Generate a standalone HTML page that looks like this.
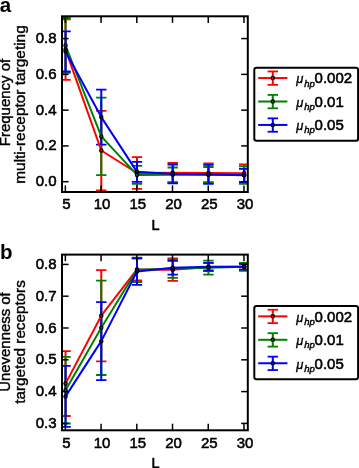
<!DOCTYPE html><html><head><meta charset="utf-8"><style>html,body{margin:0;padding:0;background:#fff;width:359px;height:468px;overflow:hidden}svg{display:block;will-change:transform}text{font-family:"Liberation Sans", sans-serif;fill:#000}</style></head><body>
<svg width="359" height="468" viewBox="0 0 359 468">
<rect width="359" height="468" fill="#fff"/>
<text x="-0.2" y="11.5" font-size="20.5" text-anchor="start" font-weight="bold">a</text>
<text x="0.0" y="259.0" font-size="20.5" text-anchor="start" font-weight="bold">b</text>
<clipPath id="ca"><rect x="62.0" y="16.3" width="185.8" height="175.7"/></clipPath>
<g clip-path="url(#ca)">
<line x1="65.55" y1="19.4" x2="65.55" y2="79.8" stroke="#ff0000" stroke-width="2.0"/>
<line x1="60.35" y1="19.4" x2="70.75" y2="19.4" stroke="#ff0000" stroke-width="1.8"/>
<line x1="60.35" y1="79.8" x2="70.75" y2="79.8" stroke="#ff0000" stroke-width="1.8"/>
<line x1="101.27" y1="110.8" x2="101.27" y2="190.4" stroke="#ff0000" stroke-width="2.0"/>
<line x1="96.07" y1="110.8" x2="106.47" y2="110.8" stroke="#ff0000" stroke-width="1.8"/>
<line x1="96.07" y1="190.4" x2="106.47" y2="190.4" stroke="#ff0000" stroke-width="1.8"/>
<line x1="137.00" y1="157.1" x2="137.00" y2="188.8" stroke="#ff0000" stroke-width="2.0"/>
<line x1="131.80" y1="157.1" x2="142.20" y2="157.1" stroke="#ff0000" stroke-width="1.8"/>
<line x1="131.80" y1="188.8" x2="142.20" y2="188.8" stroke="#ff0000" stroke-width="1.8"/>
<line x1="172.72" y1="163.0" x2="172.72" y2="182.6" stroke="#ff0000" stroke-width="2.0"/>
<line x1="167.52" y1="163.0" x2="177.92" y2="163.0" stroke="#ff0000" stroke-width="1.8"/>
<line x1="167.52" y1="182.6" x2="177.92" y2="182.6" stroke="#ff0000" stroke-width="1.8"/>
<line x1="208.45" y1="163.5" x2="208.45" y2="182.3" stroke="#ff0000" stroke-width="2.0"/>
<line x1="203.25" y1="163.5" x2="213.65" y2="163.5" stroke="#ff0000" stroke-width="1.8"/>
<line x1="203.25" y1="182.3" x2="213.65" y2="182.3" stroke="#ff0000" stroke-width="1.8"/>
<line x1="244.17" y1="164.5" x2="244.17" y2="181.8" stroke="#ff0000" stroke-width="2.0"/>
<line x1="238.97" y1="164.5" x2="249.37" y2="164.5" stroke="#ff0000" stroke-width="1.8"/>
<line x1="238.97" y1="181.8" x2="249.37" y2="181.8" stroke="#ff0000" stroke-width="1.8"/>
<line x1="65.55" y1="18.0" x2="65.55" y2="72.9" stroke="#008000" stroke-width="2.0"/>
<line x1="60.35" y1="18.0" x2="70.75" y2="18.0" stroke="#008000" stroke-width="1.8"/>
<line x1="60.35" y1="72.9" x2="70.75" y2="72.9" stroke="#008000" stroke-width="1.8"/>
<line x1="101.27" y1="97.7" x2="101.27" y2="175.1" stroke="#008000" stroke-width="2.0"/>
<line x1="96.07" y1="97.7" x2="106.47" y2="97.7" stroke="#008000" stroke-width="1.8"/>
<line x1="96.07" y1="175.1" x2="106.47" y2="175.1" stroke="#008000" stroke-width="1.8"/>
<line x1="137.00" y1="165.9" x2="137.00" y2="183.9" stroke="#008000" stroke-width="2.0"/>
<line x1="131.80" y1="165.9" x2="142.20" y2="165.9" stroke="#008000" stroke-width="1.8"/>
<line x1="131.80" y1="183.9" x2="142.20" y2="183.9" stroke="#008000" stroke-width="1.8"/>
<line x1="172.72" y1="167.5" x2="172.72" y2="182.2" stroke="#008000" stroke-width="2.0"/>
<line x1="167.52" y1="167.5" x2="177.92" y2="167.5" stroke="#008000" stroke-width="1.8"/>
<line x1="167.52" y1="182.2" x2="177.92" y2="182.2" stroke="#008000" stroke-width="1.8"/>
<line x1="208.45" y1="167.0" x2="208.45" y2="182.5" stroke="#008000" stroke-width="2.0"/>
<line x1="203.25" y1="167.0" x2="213.65" y2="167.0" stroke="#008000" stroke-width="1.8"/>
<line x1="203.25" y1="182.5" x2="213.65" y2="182.5" stroke="#008000" stroke-width="1.8"/>
<line x1="244.17" y1="166.3" x2="244.17" y2="183.8" stroke="#008000" stroke-width="2.0"/>
<line x1="238.97" y1="166.3" x2="249.37" y2="166.3" stroke="#008000" stroke-width="1.8"/>
<line x1="238.97" y1="183.8" x2="249.37" y2="183.8" stroke="#008000" stroke-width="1.8"/>
<line x1="65.55" y1="31.3" x2="65.55" y2="71.5" stroke="#0000ff" stroke-width="2.0"/>
<line x1="60.35" y1="31.3" x2="70.75" y2="31.3" stroke="#0000ff" stroke-width="1.8"/>
<line x1="60.35" y1="71.5" x2="70.75" y2="71.5" stroke="#0000ff" stroke-width="1.8"/>
<line x1="101.27" y1="89.6" x2="101.27" y2="144.6" stroke="#0000ff" stroke-width="2.0"/>
<line x1="96.07" y1="89.6" x2="106.47" y2="89.6" stroke="#0000ff" stroke-width="1.8"/>
<line x1="96.07" y1="144.6" x2="106.47" y2="144.6" stroke="#0000ff" stroke-width="1.8"/>
<line x1="137.00" y1="161.8" x2="137.00" y2="181.9" stroke="#0000ff" stroke-width="2.0"/>
<line x1="131.80" y1="161.8" x2="142.20" y2="161.8" stroke="#0000ff" stroke-width="1.8"/>
<line x1="131.80" y1="181.9" x2="142.20" y2="181.9" stroke="#0000ff" stroke-width="1.8"/>
<line x1="172.72" y1="164.6" x2="172.72" y2="183.4" stroke="#0000ff" stroke-width="2.0"/>
<line x1="167.52" y1="164.6" x2="177.92" y2="164.6" stroke="#0000ff" stroke-width="1.8"/>
<line x1="167.52" y1="183.4" x2="177.92" y2="183.4" stroke="#0000ff" stroke-width="1.8"/>
<line x1="208.45" y1="164.9" x2="208.45" y2="183.9" stroke="#0000ff" stroke-width="2.0"/>
<line x1="203.25" y1="164.9" x2="213.65" y2="164.9" stroke="#0000ff" stroke-width="1.8"/>
<line x1="203.25" y1="183.9" x2="213.65" y2="183.9" stroke="#0000ff" stroke-width="1.8"/>
<line x1="244.17" y1="168.8" x2="244.17" y2="182.0" stroke="#0000ff" stroke-width="2.0"/>
<line x1="238.97" y1="168.8" x2="249.37" y2="168.8" stroke="#0000ff" stroke-width="1.8"/>
<line x1="238.97" y1="182.0" x2="249.37" y2="182.0" stroke="#0000ff" stroke-width="1.8"/>
<polyline points="65.55,49.60 101.27,150.50 137.00,173.00 172.72,172.80 208.45,172.90 244.17,173.20" fill="none" stroke="#ff0000" stroke-width="2.0" stroke-linejoin="round"/>
<polyline points="65.55,45.50 101.27,136.40 137.00,174.90 172.72,174.85 208.45,174.80 244.17,175.05" fill="none" stroke="#008000" stroke-width="2.0" stroke-linejoin="round"/>
<polyline points="65.55,51.40 101.27,117.10 137.00,171.85 172.72,174.00 208.45,174.40 244.17,175.30" fill="none" stroke="#0000ff" stroke-width="2.0" stroke-linejoin="round"/>
<circle cx="65.55" cy="49.6" r="1.6" fill="#ff0000" stroke="#000" stroke-width="1.3"/>
<circle cx="101.27" cy="150.5" r="1.6" fill="#ff0000" stroke="#000" stroke-width="1.3"/>
<circle cx="137.00" cy="173.0" r="1.6" fill="#ff0000" stroke="#000" stroke-width="1.3"/>
<circle cx="172.72" cy="172.8" r="1.6" fill="#ff0000" stroke="#000" stroke-width="1.3"/>
<circle cx="208.45" cy="172.9" r="1.6" fill="#ff0000" stroke="#000" stroke-width="1.3"/>
<circle cx="244.17" cy="173.2" r="1.6" fill="#ff0000" stroke="#000" stroke-width="1.3"/>
<circle cx="65.55" cy="45.5" r="1.6" fill="#008000" stroke="#000" stroke-width="1.3"/>
<circle cx="101.27" cy="136.4" r="1.6" fill="#008000" stroke="#000" stroke-width="1.3"/>
<circle cx="137.00" cy="174.9" r="1.6" fill="#008000" stroke="#000" stroke-width="1.3"/>
<circle cx="172.72" cy="174.85" r="1.6" fill="#008000" stroke="#000" stroke-width="1.3"/>
<circle cx="208.45" cy="174.8" r="1.6" fill="#008000" stroke="#000" stroke-width="1.3"/>
<circle cx="244.17" cy="175.05" r="1.6" fill="#008000" stroke="#000" stroke-width="1.3"/>
<circle cx="65.55" cy="51.4" r="1.6" fill="#0000ff" stroke="#000" stroke-width="1.3"/>
<circle cx="101.27" cy="117.1" r="1.6" fill="#0000ff" stroke="#000" stroke-width="1.3"/>
<circle cx="137.00" cy="171.85" r="1.6" fill="#0000ff" stroke="#000" stroke-width="1.3"/>
<circle cx="172.72" cy="174.0" r="1.6" fill="#0000ff" stroke="#000" stroke-width="1.3"/>
<circle cx="208.45" cy="174.4" r="1.6" fill="#0000ff" stroke="#000" stroke-width="1.3"/>
<circle cx="244.17" cy="175.3" r="1.6" fill="#0000ff" stroke="#000" stroke-width="1.3"/>
</g>
<line x1="65.35" y1="16.3" x2="65.35" y2="22.9" stroke="#000" stroke-width="1.5"/>
<line x1="65.35" y1="192.0" x2="65.35" y2="185.4" stroke="#000" stroke-width="1.5"/>
<line x1="101.07" y1="16.3" x2="101.07" y2="22.9" stroke="#000" stroke-width="1.5"/>
<line x1="101.07" y1="192.0" x2="101.07" y2="185.4" stroke="#000" stroke-width="1.5"/>
<line x1="136.80" y1="16.3" x2="136.80" y2="22.9" stroke="#000" stroke-width="1.5"/>
<line x1="136.80" y1="192.0" x2="136.80" y2="185.4" stroke="#000" stroke-width="1.5"/>
<line x1="172.52" y1="16.3" x2="172.52" y2="22.9" stroke="#000" stroke-width="1.5"/>
<line x1="172.52" y1="192.0" x2="172.52" y2="185.4" stroke="#000" stroke-width="1.5"/>
<line x1="208.25" y1="16.3" x2="208.25" y2="22.9" stroke="#000" stroke-width="1.5"/>
<line x1="208.25" y1="192.0" x2="208.25" y2="185.4" stroke="#000" stroke-width="1.5"/>
<line x1="243.97" y1="16.3" x2="243.97" y2="22.9" stroke="#000" stroke-width="1.5"/>
<line x1="243.97" y1="192.0" x2="243.97" y2="185.4" stroke="#000" stroke-width="1.5"/>
<line x1="62.0" y1="181.70" x2="68.6" y2="181.70" stroke="#000" stroke-width="1.5"/>
<line x1="247.8" y1="181.70" x2="241.20000000000002" y2="181.70" stroke="#000" stroke-width="1.5"/>
<line x1="62.0" y1="145.92" x2="68.6" y2="145.92" stroke="#000" stroke-width="1.5"/>
<line x1="247.8" y1="145.92" x2="241.20000000000002" y2="145.92" stroke="#000" stroke-width="1.5"/>
<line x1="62.0" y1="110.14" x2="68.6" y2="110.14" stroke="#000" stroke-width="1.5"/>
<line x1="247.8" y1="110.14" x2="241.20000000000002" y2="110.14" stroke="#000" stroke-width="1.5"/>
<line x1="62.0" y1="74.36" x2="68.6" y2="74.36" stroke="#000" stroke-width="1.5"/>
<line x1="247.8" y1="74.36" x2="241.20000000000002" y2="74.36" stroke="#000" stroke-width="1.5"/>
<line x1="62.0" y1="38.58" x2="68.6" y2="38.58" stroke="#000" stroke-width="1.5"/>
<line x1="247.8" y1="38.58" x2="241.20000000000002" y2="38.58" stroke="#000" stroke-width="1.5"/>
<rect x="62.0" y="16.3" width="185.8" height="175.7" fill="none" stroke="#000" stroke-width="2.0"/>
<text x="56.6" y="186.2" font-size="15" text-anchor="end" font-weight="normal" stroke="#000" stroke-width="0.55">0.0</text>
<text x="56.6" y="150.42" font-size="15" text-anchor="end" font-weight="normal" stroke="#000" stroke-width="0.55">0.2</text>
<text x="56.6" y="114.63999999999999" font-size="15" text-anchor="end" font-weight="normal" stroke="#000" stroke-width="0.55">0.4</text>
<text x="56.6" y="78.85999999999999" font-size="15" text-anchor="end" font-weight="normal" stroke="#000" stroke-width="0.55">0.6</text>
<text x="56.6" y="43.079999999999984" font-size="15" text-anchor="end" font-weight="normal" stroke="#000" stroke-width="0.55">0.8</text>
<text x="66.35" y="209.2" font-size="15" text-anchor="middle" font-weight="normal" stroke="#000" stroke-width="0.55">5</text>
<text x="102.07499999999999" y="209.2" font-size="15" text-anchor="middle" font-weight="normal" stroke="#000" stroke-width="0.55">10</text>
<text x="137.79999999999998" y="209.2" font-size="15" text-anchor="middle" font-weight="normal" stroke="#000" stroke-width="0.55">15</text>
<text x="173.52499999999998" y="209.2" font-size="15" text-anchor="middle" font-weight="normal" stroke="#000" stroke-width="0.55">20</text>
<text x="209.24999999999997" y="209.2" font-size="15" text-anchor="middle" font-weight="normal" stroke="#000" stroke-width="0.55">25</text>
<text x="244.975" y="209.2" font-size="15" text-anchor="middle" font-weight="normal" stroke="#000" stroke-width="0.55">30</text>
<text x="155.5" y="230.0" font-size="14.5" text-anchor="middle" font-weight="normal" stroke="#000" stroke-width="0.55">L</text>
<clipPath id="cb"><rect x="62.0" y="254.6" width="185.8" height="175.70000000000002"/></clipPath>
<g clip-path="url(#cb)">
<line x1="65.55" y1="351.2" x2="65.55" y2="416.0" stroke="#ff0000" stroke-width="2.0"/>
<line x1="60.35" y1="351.2" x2="70.75" y2="351.2" stroke="#ff0000" stroke-width="1.8"/>
<line x1="60.35" y1="416.0" x2="70.75" y2="416.0" stroke="#ff0000" stroke-width="1.8"/>
<line x1="101.27" y1="270.1" x2="101.27" y2="361.3" stroke="#ff0000" stroke-width="2.0"/>
<line x1="96.07" y1="270.1" x2="106.47" y2="270.1" stroke="#ff0000" stroke-width="1.8"/>
<line x1="96.07" y1="361.3" x2="106.47" y2="361.3" stroke="#ff0000" stroke-width="1.8"/>
<line x1="137.00" y1="258.3" x2="137.00" y2="280.5" stroke="#ff0000" stroke-width="2.0"/>
<line x1="131.80" y1="258.3" x2="142.20" y2="258.3" stroke="#ff0000" stroke-width="1.8"/>
<line x1="131.80" y1="280.5" x2="142.20" y2="280.5" stroke="#ff0000" stroke-width="1.8"/>
<line x1="172.72" y1="258.5" x2="172.72" y2="280.8" stroke="#ff0000" stroke-width="2.0"/>
<line x1="167.52" y1="258.5" x2="177.92" y2="258.5" stroke="#ff0000" stroke-width="1.8"/>
<line x1="167.52" y1="280.8" x2="177.92" y2="280.8" stroke="#ff0000" stroke-width="1.8"/>
<line x1="208.45" y1="262.9" x2="208.45" y2="271.2" stroke="#ff0000" stroke-width="2.0"/>
<line x1="203.25" y1="262.9" x2="213.65" y2="262.9" stroke="#ff0000" stroke-width="1.8"/>
<line x1="203.25" y1="271.2" x2="213.65" y2="271.2" stroke="#ff0000" stroke-width="1.8"/>
<line x1="244.17" y1="263.9" x2="244.17" y2="269.7" stroke="#ff0000" stroke-width="2.0"/>
<line x1="238.97" y1="263.9" x2="249.37" y2="263.9" stroke="#ff0000" stroke-width="1.8"/>
<line x1="238.97" y1="269.7" x2="249.37" y2="269.7" stroke="#ff0000" stroke-width="1.8"/>
<line x1="65.55" y1="356.9" x2="65.55" y2="423.5" stroke="#008000" stroke-width="2.0"/>
<line x1="60.35" y1="356.9" x2="70.75" y2="356.9" stroke="#008000" stroke-width="1.8"/>
<line x1="60.35" y1="423.5" x2="70.75" y2="423.5" stroke="#008000" stroke-width="1.8"/>
<line x1="101.27" y1="280.6" x2="101.27" y2="375.0" stroke="#008000" stroke-width="2.0"/>
<line x1="96.07" y1="280.6" x2="106.47" y2="280.6" stroke="#008000" stroke-width="1.8"/>
<line x1="96.07" y1="375.0" x2="106.47" y2="375.0" stroke="#008000" stroke-width="1.8"/>
<line x1="137.00" y1="257.6" x2="137.00" y2="282.0" stroke="#008000" stroke-width="2.0"/>
<line x1="131.80" y1="257.6" x2="142.20" y2="257.6" stroke="#008000" stroke-width="1.8"/>
<line x1="131.80" y1="282.0" x2="142.20" y2="282.0" stroke="#008000" stroke-width="1.8"/>
<line x1="172.72" y1="259.6" x2="172.72" y2="277.8" stroke="#008000" stroke-width="2.0"/>
<line x1="167.52" y1="259.6" x2="177.92" y2="259.6" stroke="#008000" stroke-width="1.8"/>
<line x1="167.52" y1="277.8" x2="177.92" y2="277.8" stroke="#008000" stroke-width="1.8"/>
<line x1="208.45" y1="260.7" x2="208.45" y2="274.6" stroke="#008000" stroke-width="2.0"/>
<line x1="203.25" y1="260.7" x2="213.65" y2="260.7" stroke="#008000" stroke-width="1.8"/>
<line x1="203.25" y1="274.6" x2="213.65" y2="274.6" stroke="#008000" stroke-width="1.8"/>
<line x1="244.17" y1="262.8" x2="244.17" y2="270.8" stroke="#008000" stroke-width="2.0"/>
<line x1="238.97" y1="262.8" x2="249.37" y2="262.8" stroke="#008000" stroke-width="1.8"/>
<line x1="238.97" y1="270.8" x2="249.37" y2="270.8" stroke="#008000" stroke-width="1.8"/>
<line x1="65.55" y1="365.9" x2="65.55" y2="426.9" stroke="#0000ff" stroke-width="2.0"/>
<line x1="60.35" y1="365.9" x2="70.75" y2="365.9" stroke="#0000ff" stroke-width="1.8"/>
<line x1="60.35" y1="426.9" x2="70.75" y2="426.9" stroke="#0000ff" stroke-width="1.8"/>
<line x1="101.27" y1="302.2" x2="101.27" y2="380.1" stroke="#0000ff" stroke-width="2.0"/>
<line x1="96.07" y1="302.2" x2="106.47" y2="302.2" stroke="#0000ff" stroke-width="1.8"/>
<line x1="96.07" y1="380.1" x2="106.47" y2="380.1" stroke="#0000ff" stroke-width="1.8"/>
<line x1="137.00" y1="258.3" x2="137.00" y2="284.8" stroke="#0000ff" stroke-width="2.0"/>
<line x1="131.80" y1="258.3" x2="142.20" y2="258.3" stroke="#0000ff" stroke-width="1.8"/>
<line x1="131.80" y1="284.8" x2="142.20" y2="284.8" stroke="#0000ff" stroke-width="1.8"/>
<line x1="172.72" y1="260.9" x2="172.72" y2="274.6" stroke="#0000ff" stroke-width="2.0"/>
<line x1="167.52" y1="260.9" x2="177.92" y2="260.9" stroke="#0000ff" stroke-width="1.8"/>
<line x1="167.52" y1="274.6" x2="177.92" y2="274.6" stroke="#0000ff" stroke-width="1.8"/>
<line x1="208.45" y1="262.8" x2="208.45" y2="270.5" stroke="#0000ff" stroke-width="2.0"/>
<line x1="203.25" y1="262.8" x2="213.65" y2="262.8" stroke="#0000ff" stroke-width="1.8"/>
<line x1="203.25" y1="270.5" x2="213.65" y2="270.5" stroke="#0000ff" stroke-width="1.8"/>
<line x1="244.17" y1="263.9" x2="244.17" y2="269.6" stroke="#0000ff" stroke-width="2.0"/>
<line x1="238.97" y1="263.9" x2="249.37" y2="263.9" stroke="#0000ff" stroke-width="1.8"/>
<line x1="238.97" y1="269.6" x2="249.37" y2="269.6" stroke="#0000ff" stroke-width="1.8"/>
<polyline points="65.55,383.60 101.27,315.70 137.00,269.40 172.72,269.65 208.45,267.00 244.17,266.80" fill="none" stroke="#ff0000" stroke-width="2.0" stroke-linejoin="round"/>
<polyline points="65.55,390.20 101.27,327.80 137.00,269.80 172.72,268.70 208.45,267.65 244.17,266.80" fill="none" stroke="#008000" stroke-width="2.0" stroke-linejoin="round"/>
<polyline points="65.55,396.40 101.27,341.15 137.00,271.55 172.72,267.75 208.45,266.65 244.17,266.75" fill="none" stroke="#0000ff" stroke-width="2.0" stroke-linejoin="round"/>
<circle cx="65.55" cy="383.6" r="1.6" fill="#ff0000" stroke="#000" stroke-width="1.3"/>
<circle cx="101.27" cy="315.7" r="1.6" fill="#ff0000" stroke="#000" stroke-width="1.3"/>
<circle cx="137.00" cy="269.4" r="1.6" fill="#ff0000" stroke="#000" stroke-width="1.3"/>
<circle cx="172.72" cy="269.65" r="1.6" fill="#ff0000" stroke="#000" stroke-width="1.3"/>
<circle cx="208.45" cy="267.0" r="1.6" fill="#ff0000" stroke="#000" stroke-width="1.3"/>
<circle cx="244.17" cy="266.8" r="1.6" fill="#ff0000" stroke="#000" stroke-width="1.3"/>
<circle cx="65.55" cy="390.2" r="1.6" fill="#008000" stroke="#000" stroke-width="1.3"/>
<circle cx="101.27" cy="327.8" r="1.6" fill="#008000" stroke="#000" stroke-width="1.3"/>
<circle cx="137.00" cy="269.8" r="1.6" fill="#008000" stroke="#000" stroke-width="1.3"/>
<circle cx="172.72" cy="268.7" r="1.6" fill="#008000" stroke="#000" stroke-width="1.3"/>
<circle cx="208.45" cy="267.65" r="1.6" fill="#008000" stroke="#000" stroke-width="1.3"/>
<circle cx="244.17" cy="266.8" r="1.6" fill="#008000" stroke="#000" stroke-width="1.3"/>
<circle cx="65.55" cy="396.4" r="1.6" fill="#0000ff" stroke="#000" stroke-width="1.3"/>
<circle cx="101.27" cy="341.15" r="1.6" fill="#0000ff" stroke="#000" stroke-width="1.3"/>
<circle cx="137.00" cy="271.55" r="1.6" fill="#0000ff" stroke="#000" stroke-width="1.3"/>
<circle cx="172.72" cy="267.75" r="1.6" fill="#0000ff" stroke="#000" stroke-width="1.3"/>
<circle cx="208.45" cy="266.65" r="1.6" fill="#0000ff" stroke="#000" stroke-width="1.3"/>
<circle cx="244.17" cy="266.75" r="1.6" fill="#0000ff" stroke="#000" stroke-width="1.3"/>
</g>
<line x1="65.35" y1="254.6" x2="65.35" y2="261.2" stroke="#000" stroke-width="1.5"/>
<line x1="65.35" y1="430.3" x2="65.35" y2="423.7" stroke="#000" stroke-width="1.5"/>
<line x1="101.07" y1="254.6" x2="101.07" y2="261.2" stroke="#000" stroke-width="1.5"/>
<line x1="101.07" y1="430.3" x2="101.07" y2="423.7" stroke="#000" stroke-width="1.5"/>
<line x1="136.80" y1="254.6" x2="136.80" y2="261.2" stroke="#000" stroke-width="1.5"/>
<line x1="136.80" y1="430.3" x2="136.80" y2="423.7" stroke="#000" stroke-width="1.5"/>
<line x1="172.52" y1="254.6" x2="172.52" y2="261.2" stroke="#000" stroke-width="1.5"/>
<line x1="172.52" y1="430.3" x2="172.52" y2="423.7" stroke="#000" stroke-width="1.5"/>
<line x1="208.25" y1="254.6" x2="208.25" y2="261.2" stroke="#000" stroke-width="1.5"/>
<line x1="208.25" y1="430.3" x2="208.25" y2="423.7" stroke="#000" stroke-width="1.5"/>
<line x1="243.97" y1="254.6" x2="243.97" y2="261.2" stroke="#000" stroke-width="1.5"/>
<line x1="243.97" y1="430.3" x2="243.97" y2="423.7" stroke="#000" stroke-width="1.5"/>
<line x1="62.0" y1="423.40" x2="68.6" y2="423.40" stroke="#000" stroke-width="1.5"/>
<line x1="247.8" y1="423.40" x2="241.20000000000002" y2="423.40" stroke="#000" stroke-width="1.5"/>
<line x1="62.0" y1="391.60" x2="68.6" y2="391.60" stroke="#000" stroke-width="1.5"/>
<line x1="247.8" y1="391.60" x2="241.20000000000002" y2="391.60" stroke="#000" stroke-width="1.5"/>
<line x1="62.0" y1="359.80" x2="68.6" y2="359.80" stroke="#000" stroke-width="1.5"/>
<line x1="247.8" y1="359.80" x2="241.20000000000002" y2="359.80" stroke="#000" stroke-width="1.5"/>
<line x1="62.0" y1="328.00" x2="68.6" y2="328.00" stroke="#000" stroke-width="1.5"/>
<line x1="247.8" y1="328.00" x2="241.20000000000002" y2="328.00" stroke="#000" stroke-width="1.5"/>
<line x1="62.0" y1="296.20" x2="68.6" y2="296.20" stroke="#000" stroke-width="1.5"/>
<line x1="247.8" y1="296.20" x2="241.20000000000002" y2="296.20" stroke="#000" stroke-width="1.5"/>
<line x1="62.0" y1="264.40" x2="68.6" y2="264.40" stroke="#000" stroke-width="1.5"/>
<line x1="247.8" y1="264.40" x2="241.20000000000002" y2="264.40" stroke="#000" stroke-width="1.5"/>
<rect x="62.0" y="254.6" width="185.8" height="175.70000000000002" fill="none" stroke="#000" stroke-width="2.0"/>
<text x="56.6" y="427.9" font-size="15" text-anchor="end" font-weight="normal" stroke="#000" stroke-width="0.55">0.3</text>
<text x="56.6" y="396.09999999999997" font-size="15" text-anchor="end" font-weight="normal" stroke="#000" stroke-width="0.55">0.4</text>
<text x="56.6" y="364.3" font-size="15" text-anchor="end" font-weight="normal" stroke="#000" stroke-width="0.55">0.5</text>
<text x="56.6" y="332.5" font-size="15" text-anchor="end" font-weight="normal" stroke="#000" stroke-width="0.55">0.6</text>
<text x="56.6" y="300.7" font-size="15" text-anchor="end" font-weight="normal" stroke="#000" stroke-width="0.55">0.7</text>
<text x="56.6" y="268.9" font-size="15" text-anchor="end" font-weight="normal" stroke="#000" stroke-width="0.55">0.8</text>
<text x="66.35" y="447.5" font-size="15" text-anchor="middle" font-weight="normal" stroke="#000" stroke-width="0.55">5</text>
<text x="102.07499999999999" y="447.5" font-size="15" text-anchor="middle" font-weight="normal" stroke="#000" stroke-width="0.55">10</text>
<text x="137.79999999999998" y="447.5" font-size="15" text-anchor="middle" font-weight="normal" stroke="#000" stroke-width="0.55">15</text>
<text x="173.52499999999998" y="447.5" font-size="15" text-anchor="middle" font-weight="normal" stroke="#000" stroke-width="0.55">20</text>
<text x="209.24999999999997" y="447.5" font-size="15" text-anchor="middle" font-weight="normal" stroke="#000" stroke-width="0.55">25</text>
<text x="244.975" y="447.5" font-size="15" text-anchor="middle" font-weight="normal" stroke="#000" stroke-width="0.55">30</text>
<text x="155.5" y="468.3" font-size="14.5" text-anchor="middle" font-weight="normal" stroke="#000" stroke-width="0.55">L</text>
<rect x="254.3" y="67.7" width="103.80000000000001" height="73.10000000000001" rx="2.2" ry="2.2" fill="#fff" stroke="#000" stroke-width="2"/>
<line x1="258.2" y1="78.05" x2="287.4" y2="78.05" stroke="#ff0000" stroke-width="2.0"/>
<line x1="272.8" y1="71.45" x2="272.8" y2="84.85" stroke="#ff0000" stroke-width="2.0"/>
<line x1="267.6" y1="71.45" x2="278.0" y2="71.45" stroke="#ff0000" stroke-width="1.8"/>
<line x1="267.6" y1="84.85" x2="278.0" y2="84.85" stroke="#ff0000" stroke-width="1.8"/>
<circle cx="272.8" cy="78.05" r="1.6" fill="#ff0000" stroke="#000" stroke-width="1.3"/>
<text x="296.3" y="83.30" font-size="13" font-style="italic" stroke="#000" stroke-width="0.35">&#956;</text>
<text x="304.2" y="86.50" font-size="8.8" font-style="italic" stroke="#000" stroke-width="0.4" textLength="10.6" lengthAdjust="spacingAndGlyphs">hp</text>
<text x="314.6" y="83.35" font-size="15" text-anchor="start" font-weight="normal" stroke="#000" stroke-width="0.55">0.002</text>
<line x1="258.2" y1="101.50" x2="287.4" y2="101.50" stroke="#008000" stroke-width="2.0"/>
<line x1="272.8" y1="94.90" x2="272.8" y2="108.30" stroke="#008000" stroke-width="2.0"/>
<line x1="267.6" y1="94.90" x2="278.0" y2="94.90" stroke="#008000" stroke-width="1.8"/>
<line x1="267.6" y1="108.30" x2="278.0" y2="108.30" stroke="#008000" stroke-width="1.8"/>
<circle cx="272.8" cy="101.50" r="1.6" fill="#008000" stroke="#000" stroke-width="1.3"/>
<text x="296.3" y="106.75" font-size="13" font-style="italic" stroke="#000" stroke-width="0.35">&#956;</text>
<text x="304.2" y="109.95" font-size="8.8" font-style="italic" stroke="#000" stroke-width="0.4" textLength="10.6" lengthAdjust="spacingAndGlyphs">hp</text>
<text x="314.6" y="106.8" font-size="15" text-anchor="start" font-weight="normal" stroke="#000" stroke-width="0.55">0.01</text>
<line x1="258.2" y1="124.95" x2="287.4" y2="124.95" stroke="#0000ff" stroke-width="2.0"/>
<line x1="272.8" y1="118.35" x2="272.8" y2="131.75" stroke="#0000ff" stroke-width="2.0"/>
<line x1="267.6" y1="118.35" x2="278.0" y2="118.35" stroke="#0000ff" stroke-width="1.8"/>
<line x1="267.6" y1="131.75" x2="278.0" y2="131.75" stroke="#0000ff" stroke-width="1.8"/>
<circle cx="272.8" cy="124.95" r="1.6" fill="#0000ff" stroke="#000" stroke-width="1.3"/>
<text x="296.3" y="130.20" font-size="13" font-style="italic" stroke="#000" stroke-width="0.35">&#956;</text>
<text x="304.2" y="133.40" font-size="8.8" font-style="italic" stroke="#000" stroke-width="0.4" textLength="10.6" lengthAdjust="spacingAndGlyphs">hp</text>
<text x="314.6" y="130.25" font-size="15" text-anchor="start" font-weight="normal" stroke="#000" stroke-width="0.55">0.05</text>
<rect x="254.3" y="306.0" width="103.80000000000001" height="73.19999999999999" rx="2.2" ry="2.2" fill="#fff" stroke="#000" stroke-width="2"/>
<line x1="258.2" y1="316.35" x2="287.4" y2="316.35" stroke="#ff0000" stroke-width="2.0"/>
<line x1="272.8" y1="309.75" x2="272.8" y2="323.15" stroke="#ff0000" stroke-width="2.0"/>
<line x1="267.6" y1="309.75" x2="278.0" y2="309.75" stroke="#ff0000" stroke-width="1.8"/>
<line x1="267.6" y1="323.15" x2="278.0" y2="323.15" stroke="#ff0000" stroke-width="1.8"/>
<circle cx="272.8" cy="316.35" r="1.6" fill="#ff0000" stroke="#000" stroke-width="1.3"/>
<text x="296.3" y="321.60" font-size="13" font-style="italic" stroke="#000" stroke-width="0.35">&#956;</text>
<text x="304.2" y="324.80" font-size="8.8" font-style="italic" stroke="#000" stroke-width="0.4" textLength="10.6" lengthAdjust="spacingAndGlyphs">hp</text>
<text x="314.6" y="321.65000000000003" font-size="15" text-anchor="start" font-weight="normal" stroke="#000" stroke-width="0.55">0.002</text>
<line x1="258.2" y1="339.80" x2="287.4" y2="339.80" stroke="#008000" stroke-width="2.0"/>
<line x1="272.8" y1="333.20" x2="272.8" y2="346.60" stroke="#008000" stroke-width="2.0"/>
<line x1="267.6" y1="333.20" x2="278.0" y2="333.20" stroke="#008000" stroke-width="1.8"/>
<line x1="267.6" y1="346.60" x2="278.0" y2="346.60" stroke="#008000" stroke-width="1.8"/>
<circle cx="272.8" cy="339.80" r="1.6" fill="#008000" stroke="#000" stroke-width="1.3"/>
<text x="296.3" y="345.05" font-size="13" font-style="italic" stroke="#000" stroke-width="0.35">&#956;</text>
<text x="304.2" y="348.25" font-size="8.8" font-style="italic" stroke="#000" stroke-width="0.4" textLength="10.6" lengthAdjust="spacingAndGlyphs">hp</text>
<text x="314.6" y="345.1" font-size="15" text-anchor="start" font-weight="normal" stroke="#000" stroke-width="0.55">0.01</text>
<line x1="258.2" y1="363.25" x2="287.4" y2="363.25" stroke="#0000ff" stroke-width="2.0"/>
<line x1="272.8" y1="356.65" x2="272.8" y2="370.05" stroke="#0000ff" stroke-width="2.0"/>
<line x1="267.6" y1="356.65" x2="278.0" y2="356.65" stroke="#0000ff" stroke-width="1.8"/>
<line x1="267.6" y1="370.05" x2="278.0" y2="370.05" stroke="#0000ff" stroke-width="1.8"/>
<circle cx="272.8" cy="363.25" r="1.6" fill="#0000ff" stroke="#000" stroke-width="1.3"/>
<text x="296.3" y="368.50" font-size="13" font-style="italic" stroke="#000" stroke-width="0.35">&#956;</text>
<text x="304.2" y="371.70" font-size="8.8" font-style="italic" stroke="#000" stroke-width="0.4" textLength="10.6" lengthAdjust="spacingAndGlyphs">hp</text>
<text x="314.6" y="368.55" font-size="15" text-anchor="start" font-weight="normal" stroke="#000" stroke-width="0.55">0.05</text>
<text transform="translate(9.7,102.5) rotate(-90)" x="0" y="0" font-size="14.0" text-anchor="middle" textLength="87.5" lengthAdjust="spacingAndGlyphs" stroke="#000" stroke-width="0.4">Frequency of</text>
<text transform="translate(25.0,104.5) rotate(-90)" x="0" y="0" font-size="14.0" text-anchor="middle" textLength="158.5" lengthAdjust="spacingAndGlyphs" stroke="#000" stroke-width="0.4">multi-receptor targeting</text>
<text transform="translate(9.9,342.0) rotate(-90)" x="0" y="0" font-size="14.0" text-anchor="middle" textLength="99.5" lengthAdjust="spacingAndGlyphs" stroke="#000" stroke-width="0.4">Unevenness of</text>
<text transform="translate(24.8,342.0) rotate(-90)" x="0" y="0" font-size="14.0" text-anchor="middle" textLength="123.5" lengthAdjust="spacingAndGlyphs" stroke="#000" stroke-width="0.4">targeted receptors</text>
</svg></body></html>
